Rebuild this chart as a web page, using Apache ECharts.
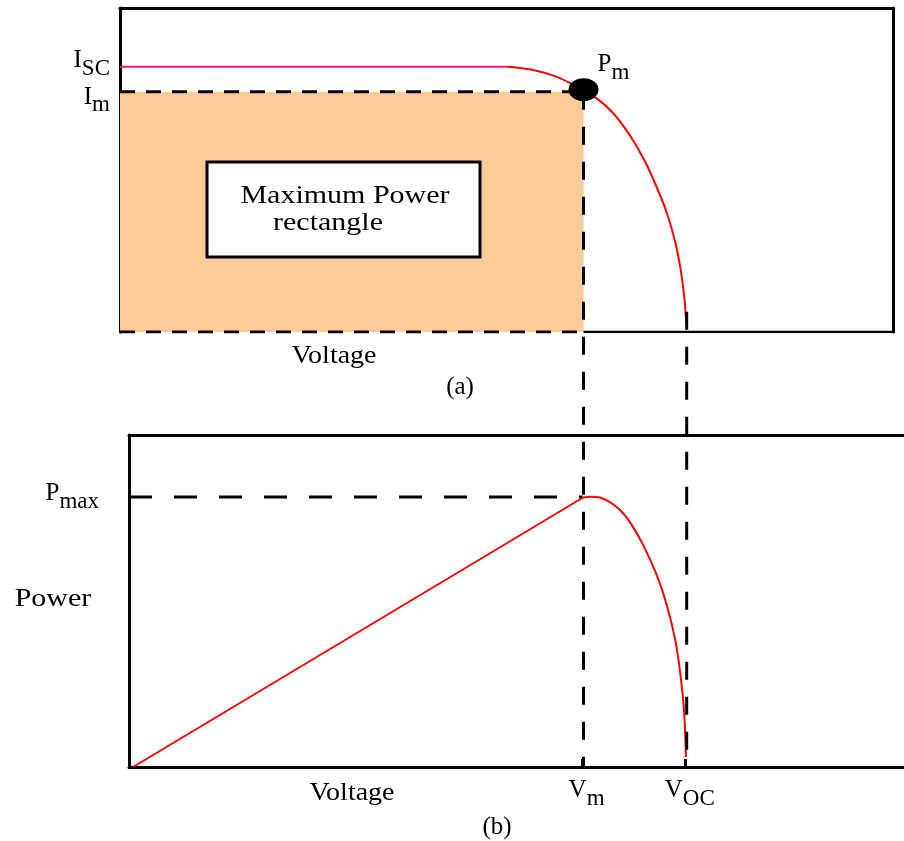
<!DOCTYPE html>
<html><head><meta charset="utf-8">
<script src="https://cdn.jsdelivr.net/npm/echarts@6/dist/echarts.min.js"></script>
<style>html,body{margin:0;padding:0;background:#fff}#c{width:904px;height:841px}</style>
</head><body><div id="c"></div>
<script>
// ---- data ----
const Isc = 5.0, Im = 4.53, Vm = 17.3, Voc = 21.15, Pmax = 78.4;
const ivFlat = [[0, 5.0], [14.48, 5.0]];
const ivCurve = [[14.48,5.0],[15.42,4.94],[16.31,4.81],[17.06,4.62],[17.80,4.40],[18.40,4.13],[19.04,3.70],[19.60,3.21],[20.04,2.72],[20.42,2.23],[20.72,1.70],[20.94,1.13],[21.07,0.60],[21.13,0.19]];
const pvLinear = [[0.52,0],[17.32,78.25]];
const pvCurve = [[17.32,78.25],[17.58,78.5],[17.95,78.25],[18.32,76.9],[18.70,74.6],[19.07,71.1],[19.56,64.5],[20.08,55.5],[20.45,46.8],[20.75,37.2],[20.94,27.6],[21.09,16.0],[21.16,2.9]];
const iscTicks = [Isc];
const iscTickLabels = ['{b|I}{s|SC}'];
const imTicks = [Im];
const imTickLabels = ['{b|I}{s|m}'];
const voltageTicks = [Vm, Voc];
const voltageTickLabels = ['{b|V}{s|m}', '{b|V}{s|OC}'];
const powerTicks = [Pmax];
const powerTickLabels = ['{b|P}{s|max}'];
const vocDashTop = 0.38;

// ---- layout ----
const FONT = 'Liberation Serif';
const TOP = {left:120, top:8, width:773, height:324};
const BOT = {left:129, top:435, width:774, height:332};
const vTopMin = 0, vTopMax = 28.85, vBotMin = 0.37, vBotMax = 29.26;
const iMax = 6.11, pMaxAxis = 96.4;
const ovBottom = BOT.top + BOT.height;
const ovMin = iMax - (ovBottom - TOP.top) / (TOP.height / iMax);

const rich = {
  b: {fontFamily: FONT, fontSize: 25, color: '#000', verticalAlign: 'top'},
  s: {fontFamily: FONT, fontSize: 23, color: '#000', verticalAlign: 'top', padding: [9,0,0,0]}
};
const black = '#000';
const dashV = [18, 17], dashH = [15, 11], dashP = [23, 22];
const borderLine = {show:true, onZero:false, lineStyle:{color:black, width:3}};
const noLine = {show:false, onZero:false};
const fmt = (ticks, labels) => (v) => labels[ticks.indexOf(v)] || '';

const chart = echarts.init(document.getElementById('c'), null, {renderer: 'canvas'});
chart.setOption({
  animation: false,
  backgroundColor: '#fff',
  grid: [
    Object.assign({}, TOP),
    Object.assign({}, BOT),
    {left: TOP.left, top: TOP.top, width: TOP.width, height: ovBottom - TOP.top},
    Object.assign({}, TOP)
  ],
  xAxis: [
    {gridIndex:0, type:'value', min:vTopMin, max:vTopMax, position:'bottom', axisLine:noLine, axisTick:{show:false}, axisLabel:{show:false}, splitLine:{show:false}},
    {gridIndex:0, type:'value', min:vTopMin, max:vTopMax, position:'top', axisLine:borderLine, axisTick:{show:false}, axisLabel:{show:false}, splitLine:{show:false}},
    {gridIndex:1, type:'value', min:vBotMin, max:vBotMax, position:'bottom',
      axisLine:borderLine,
      axisTick:{show:true, inside:true, length:8, lineStyle:{color:black, width:3}, customValues: voltageTicks},
      axisLabel:{show:true, margin:11, customValues: voltageTicks, padding:[0,0,0,8], hideOverlap:false,
        formatter: fmt(voltageTicks, voltageTickLabels), rich: rich},
      splitLine:{show:false}},
    {gridIndex:1, type:'value', min:vBotMin, max:vBotMax, position:'top', axisLine:borderLine, axisTick:{show:false}, axisLabel:{show:false}, splitLine:{show:false}},
    {gridIndex:2, type:'value', min:vTopMin, max:vTopMax, show:false},
    {gridIndex:3, type:'value', min:vTopMin, max:vTopMax, show:false}
  ],
  yAxis: [
    {gridIndex:0, type:'value', min:0, max:iMax, position:'left',
      axisLine:borderLine,
      axisTick:{show:false},
      axisLabel:{show:true, margin:10, customValues: imTicks, hideOverlap:false, padding:[18,0,0,0],
        formatter: fmt(imTicks, imTickLabels), rich: rich},
      splitLine:{show:false}},
    {gridIndex:0, type:'value', min:0, max:iMax, position:'right', axisLine:borderLine, axisTick:{show:false}, axisLabel:{show:false}, splitLine:{show:false}},
    {gridIndex:1, type:'value', min:0, max:pMaxAxis, position:'left',
      axisLine:borderLine,
      axisTick:{show:false},
      axisLabel:{show:true, margin:30, customValues: powerTicks, hideOverlap:false,
        formatter: fmt(powerTicks, powerTickLabels), rich: rich},
      splitLine:{show:false}},
    {gridIndex:2, type:'value', min:ovMin, max:iMax, show:false},
    {gridIndex:3, type:'value', min:0, max:iMax, position:'left',
      axisLine:noLine, axisTick:{show:false},
      axisLabel:{show:true, margin:10, customValues: iscTicks, hideOverlap:false, padding:[0,0,5,0],
        formatter: fmt(iscTicks, iscTickLabels), rich: rich},
      splitLine:{show:false}}
  ],
  series: [
    {type:'line', xAxisIndex:0, yAxisIndex:0, data:[[0, Im],[Vm, Im]], symbol:'none', silent:true, z:1,
      lineStyle:{width:0}, areaStyle:{color:'#fecb98', opacity:1, origin:'start'}},
    {type:'line', xAxisIndex:0, yAxisIndex:0, data:[[0, Im],[Vm, Im]], symbol:'none', silent:true, z:3,
      lineStyle:{color:black, width:3, type:dashH}},
    {type:'line', xAxisIndex:0, yAxisIndex:0, data:[[0, 0],[Vm, 0]], symbol:'none', silent:true, z:3,
      lineStyle:{color:black, width:3, type:dashH}},
    {type:'line', xAxisIndex:0, yAxisIndex:0, data:[[Vm, 0],[vTopMax, 0]], symbol:'none', silent:true, z:3,
      lineStyle:{color:black, width:2.5}},
    {type:'line', xAxisIndex:0, yAxisIndex:0, data:ivFlat, symbol:'none', silent:true, z:4,
      lineStyle:{color:'#ff1466', width:2}},
    {type:'line', xAxisIndex:0, yAxisIndex:0, data:ivCurve, symbol:'none', smooth:0.3, silent:true, z:4,
      lineStyle:{color:'#ff0000', width:2}},
    {type:'scatter', xAxisIndex:0, yAxisIndex:0, data:[[Vm, Im + 0.04]], symbol:'circle', symbolSize:[30,23], z:10, silent:true,
      itemStyle:{color:black, opacity:1},
      label:{show:true, position:[29,-26], formatter:'{b|P}{s|m}', rich: rich}},
    {type:'line', xAxisIndex:4, yAxisIndex:3, data:[[Vm, Im],[Vm, ovMin]], symbol:'none', silent:true, z:5,
      lineStyle:{color:black, width:3, type:dashV}},
    {type:'line', xAxisIndex:4, yAxisIndex:3, data:[[Voc, vocDashTop],[Voc, ovMin]], symbol:'none', silent:true, z:5,
      lineStyle:{color:black, width:3, type:dashV}},
    {type:'line', xAxisIndex:2, yAxisIndex:2, data:[[vBotMin, Pmax],[Vm, Pmax]], symbol:'none', silent:true, z:3,
      lineStyle:{color:black, width:3, type:dashP}},
    {type:'line', xAxisIndex:2, yAxisIndex:2, data:pvLinear, symbol:'none', silent:true, z:4,
      lineStyle:{color:'#ff0000', width:2}},
    {type:'line', xAxisIndex:2, yAxisIndex:2, data:pvCurve, symbol:'none', smooth:0.3, silent:true, z:4,
      lineStyle:{color:'#ff0000', width:2}}
  ],
  graphic: [
    {type:'rect', shape:{x:207, y:162, width:273, height:95}, style:{fill:'#fff', stroke:black, lineWidth:3}, z:20},
    {type:'text', x:345, y:196, scaleX:1.2, z:21,
      style:{text:'Maximum Power', fontFamily:FONT, fontSize:25, fill:black, align:'center', verticalAlign:'middle'}},
    {type:'text', x:328, y:223, scaleX:1.2, z:21,
      style:{text:'rectangle', fontFamily:FONT, fontSize:25, fill:black, align:'center', verticalAlign:'middle'}},
    {type:'text', x:334, y:356, scaleX:1.12, z:21,
      style:{text:'Voltage', fontFamily:FONT, fontSize:25, fill:black, align:'center', verticalAlign:'middle'}},
    {type:'text', x:460, y:387, z:21,
      style:{text:'(a)', fontFamily:FONT, fontSize:25, fill:black, align:'center', verticalAlign:'middle'}},
    {type:'text', x:53, y:599, scaleX:1.2, z:21,
      style:{text:'Power', fontFamily:FONT, fontSize:25, fill:black, align:'center', verticalAlign:'middle'}},
    {type:'text', x:352, y:793, scaleX:1.12, z:21,
      style:{text:'Voltage', fontFamily:FONT, fontSize:25, fill:black, align:'center', verticalAlign:'middle'}},
    {type:'text', x:497, y:827, z:21,
      style:{text:'(b)', fontFamily:FONT, fontSize:25, fill:black, align:'center', verticalAlign:'middle'}}
  ]
});
</script></body></html>
